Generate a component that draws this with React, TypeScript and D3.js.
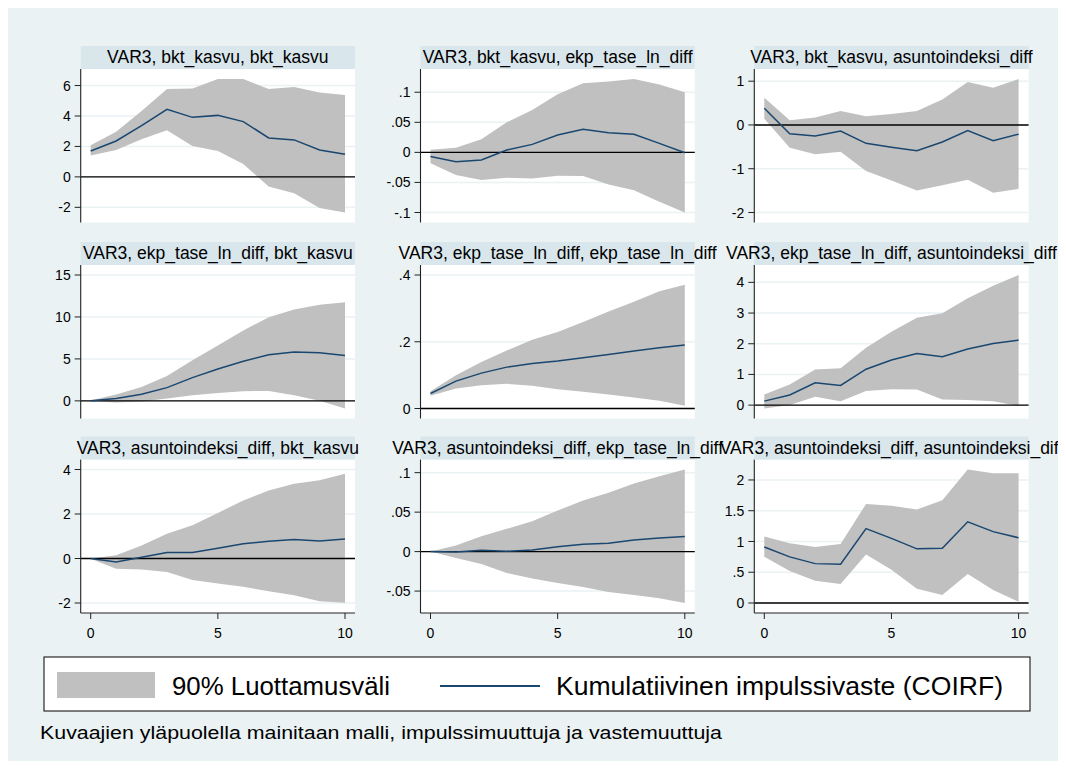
import React from "react";
import * as d3 from "d3";

// ---------- data ----------
const STEPS = [0, 1, 2, 3, 4, 5, 6, 7, 8, 9, 10];
const X_TICKS = [0, 5, 10];

const TITLES = [
  "VAR3, bkt_kasvu, bkt_kasvu",
  "VAR3, bkt_kasvu, ekp_tase_ln_diff",
  "VAR3, bkt_kasvu, asuntoindeksi_diff",
  "VAR3, ekp_tase_ln_diff, bkt_kasvu",
  "VAR3, ekp_tase_ln_diff, ekp_tase_ln_diff",
  "VAR3, ekp_tase_ln_diff, asuntoindeksi_diff",
  "VAR3, asuntoindeksi_diff, bkt_kasvu",
  "VAR3, asuntoindeksi_diff, ekp_tase_ln_diff",
  "VAR3, asuntoindeksi_diff, asuntoindeksi_diff",
];

// bkt_kasvu -> bkt_kasvu
const coirf1 = [1.7, 2.36, 3.37, 4.44, 3.91, 4.04, 3.63, 2.56, 2.43, 1.77, 1.49];
const lo1 = [1.4, 1.77, 2.47, 3.06, 2.03, 1.7, 0.85, -0.63, -1.07, -2.05, -2.34];
const hi1 = [2.08, 2.97, 4.33, 5.77, 5.81, 6.43, 6.43, 5.77, 5.9, 5.55, 5.38];
const ticks1 = [-2, 0, 2, 4, 6];
const labels1 = ["-2", "0", "2", "4", "6"];

// bkt_kasvu -> ekp_tase_ln_diff
const coirf2 = [-0.007, -0.0156, -0.0128, 0.0039, 0.0133, 0.0289, 0.0383, 0.0328, 0.03, 0.015, -0.0006];
const lo2 = [-0.0183, -0.0378, -0.0461, -0.0422, -0.0433, -0.0389, -0.0394, -0.0533, -0.0628, -0.0822, -0.1];
const hi2 = [0.0044, 0.0078, 0.0217, 0.05, 0.0706, 0.0967, 0.115, 0.118, 0.122, 0.113, 0.1];
const ticks2 = [-0.1, -0.05, 0, 0.05, 0.1];
const labels2 = ["-.1", "-.05", "0", ".05", ".1"];

// bkt_kasvu -> asuntoindeksi_diff
const coirf3 = [0.38, -0.2, -0.25, -0.14, -0.42, -0.51, -0.59, -0.39, -0.13, -0.36, -0.21];
const lo3 = [0.14, -0.52, -0.67, -0.61, -1.05, -1.27, -1.5, -1.38, -1.25, -1.55, -1.46];
const hi3 = [0.62, 0.11, 0.17, 0.32, 0.2, 0.25, 0.32, 0.58, 0.98, 0.85, 1.05];
const ticks3 = [-2, -1, 0, 1];
const labels3 = ["-2", "-1", "0", "1"];

// ekp_tase_ln_diff -> bkt_kasvu
const coirf4 = [0, 0.28, 0.79, 1.58, 2.77, 3.8, 4.71, 5.5, 5.82, 5.74, 5.42];
const lo4 = [-0.04, -0.2, -0.08, 0.28, 0.67, 0.95, 1.15, 1.19, 0.67, 0.0, -0.91];
const hi4 = [0.05, 0.75, 1.66, 2.97, 4.83, 6.61, 8.39, 9.97, 10.88, 11.44, 11.75];
const ticks4 = [0, 5, 10, 15];
const labels4 = ["0", "5", "10", "15"];

// ekp_tase_ln_diff -> ekp_tase_ln_diff
const coirf5 = [0.045, 0.082, 0.106, 0.124, 0.135, 0.142, 0.152, 0.162, 0.172, 0.182, 0.19];
const lo5 = [0.038, 0.06, 0.07, 0.074, 0.068, 0.058, 0.05, 0.042, 0.033, 0.023, 0.008];
const hi5 = [0.052, 0.1, 0.139, 0.174, 0.206, 0.229, 0.259, 0.291, 0.32, 0.351, 0.371];
const ticks5 = [0, 0.2, 0.4];
const labels5 = ["0", ".2", ".4"];

// ekp_tase_ln_diff -> asuntoindeksi_diff
const coirf6 = [0.13, 0.33, 0.73, 0.64, 1.17, 1.47, 1.68, 1.58, 1.83, 2.01, 2.12];
const lo6 = [-0.11, 0.0, 0.27, 0.13, 0.46, 0.52, 0.51, 0.18, 0.17, 0.13, -0.02];
const hi6 = [0.35, 0.67, 1.16, 1.2, 1.87, 2.39, 2.85, 2.99, 3.48, 3.89, 4.24];
const ticks6 = [0, 1, 2, 3, 4];
const labels6 = ["0", "1", "2", "3", "4"];

// asuntoindeksi_diff -> bkt_kasvu
const coirf7 = [0, -0.16, 0.06, 0.27, 0.27, 0.46, 0.66, 0.78, 0.85, 0.79, 0.88];
const lo7 = [-0.01, -0.46, -0.49, -0.61, -0.97, -1.12, -1.27, -1.47, -1.65, -1.92, -1.99];
const hi7 = [0.0, 0.15, 0.58, 1.11, 1.5, 2.05, 2.61, 3.06, 3.36, 3.52, 3.81];
const ticks7 = [-2, 0, 2, 4];
const labels7 = ["-2", "0", "2", "4"];

// asuntoindeksi_diff -> ekp_tase_ln_diff
const coirf8 = [0, -0.0004, 0.0017, 0.0004, 0.0021, 0.0063, 0.0093, 0.0106, 0.0148, 0.0173, 0.019];
const lo8 = [0, -0.008, -0.0156, -0.027, -0.0342, -0.0397, -0.0448, -0.0512, -0.055, -0.0592, -0.0651];
const hi8 = [0, 0.0076, 0.0195, 0.0288, 0.0385, 0.052, 0.0647, 0.0744, 0.0863, 0.0956, 0.104];
const ticks8 = [-0.05, 0, 0.05, 0.1];
const labels8 = ["-.05", "0", ".05", ".1"];

// asuntoindeksi_diff -> asuntoindeksi_diff
const coirf9 = [0.91, 0.75, 0.64, 0.63, 1.21, 1.05, 0.88, 0.89, 1.32, 1.16, 1.06];
const lo9 = [0.75, 0.52, 0.36, 0.31, 0.79, 0.54, 0.23, 0.13, 0.47, 0.21, 0.02];
const hi9 = [1.08, 0.97, 0.91, 0.96, 1.61, 1.58, 1.52, 1.67, 2.17, 2.11, 2.11];
const ticks9 = [0, 0.5, 1, 1.5, 2];
const labels9 = ["0", ".5", "1", "1.5", "2"];

const LEGEND_BAND = "90% Luottamusväli";
const LEGEND_LINE = "Kumulatiivinen impulssivaste (COIRF)";
const NOTE = "Kuvaajien yläpuolella mainitaan malli, impulssimuuttuja ja vastemuuttuja";

const PANELS = [
  { coirf: coirf1, lo: lo1, hi: hi1, ticks: ticks1, labels: labels1 },
  { coirf: coirf2, lo: lo2, hi: hi2, ticks: ticks2, labels: labels2 },
  { coirf: coirf3, lo: lo3, hi: hi3, ticks: ticks3, labels: labels3 },
  { coirf: coirf4, lo: lo4, hi: hi4, ticks: ticks4, labels: labels4 },
  { coirf: coirf5, lo: lo5, hi: hi5, ticks: ticks5, labels: labels5 },
  { coirf: coirf6, lo: lo6, hi: hi6, ticks: ticks6, labels: labels6 },
  { coirf: coirf7, lo: lo7, hi: hi7, ticks: ticks7, labels: labels7 },
  { coirf: coirf8, lo: lo8, hi: hi8, ticks: ticks8, labels: labels8 },
  { coirf: coirf9, lo: lo9, hi: hi9, ticks: ticks9, labels: labels9 },
].map((p, i) => ({ ...p, title: TITLES[i] }));

// ---------- layout / style ----------
const PAGE_W = 1066;
const PAGE_H = 769;
const OFF = 8;
const W = 1050;
const H = 753;
const BG = "#EAF2F3";
const TITLE_BG = "#D9E6EC";
const BAND = "#C0C0C0";
const NAVY = "#1A476F";
const FONT = "'Liberation Sans', Arial, Helvetica, sans-serif";
const COL_LEFT = [72.7, 412.5, 746.3];
const PLOT_W = 274.3;
const ROW_TITLE_TOP = [38, 234, 428.5];
const TITLE_H = 23;
const PLOT_H = 153.5;
const PAD = 10;

function Panel({ p, idx }: { p: any; idx: number }) {
  const col = idx % 3;
  const row = Math.floor(idx / 3);
  const left = COL_LEFT[col];
  const titleTop = ROW_TITLE_TOP[row];
  const top = titleTop + TITLE_H;
  const bottom = top + PLOT_H;
  const right = left + PLOT_W;

  const x = d3.scaleLinear().domain([0, 10]).range([left + PAD, right - PAD]);
  const ext = d3.extent([...p.lo, ...p.hi, ...p.ticks]) as [number, number];
  const y = d3.scaleLinear().domain(ext).range([bottom - PAD, top + PAD]);

  const area = d3
    .area<number>()
    .x((d) => x(d))
    .y0((d, i) => y(p.lo[i]))
    .y1((d, i) => y(p.hi[i]));
  const line = d3
    .line<number>()
    .x((d) => x(d))
    .y((d, i) => y(p.coirf[i]));

  return (
    <g>
      <rect x={left} y={top} width={PLOT_W} height={PLOT_H} fill="#fff" />
      {p.ticks.map((t: number, i: number) => (
        <line key={"g" + i} x1={left} x2={right} y1={y(t)} y2={y(t)} stroke={BG} strokeWidth={1.5} />
      ))}
      <path d={area(STEPS) || ""} fill={BAND} stroke="none" />
      <line x1={left} x2={right} y1={y(0)} y2={y(0)} stroke="#000" strokeWidth={1.4} />
      <path d={line(STEPS) || ""} fill="none" stroke={NAVY} strokeWidth={1.5} />
      {/* y axis */}
      <line x1={left} x2={left} y1={top} y2={bottom} stroke="#222" strokeWidth={1.1} />
      {p.ticks.map((t: number, i: number) => (
        <g key={"t" + i}>
          <line x1={left - 6} x2={left} y1={y(t)} y2={y(t)} stroke="#222" strokeWidth={1} />
          <text
            x={left - 10}
            y={y(t)}
            dy="0.36em"
            textAnchor="end"
            fontSize={14}
            fontFamily={FONT}
            fill="#000"
          >
            {p.labels[i]}
          </text>
        </g>
      ))}
      {row === 2 && (
        <g>
          <line x1={left} x2={right} y1={bottom} y2={bottom} stroke="#222" strokeWidth={1.1} />
          {X_TICKS.map((t) => (
            <g key={"x" + t}>
              <line x1={x(t)} x2={x(t)} y1={bottom} y2={bottom + 6} stroke="#222" strokeWidth={1} />
              <text x={x(t)} y={bottom + 25} textAnchor="middle" fontSize={14} fontFamily={FONT} fill="#000">
                {t}
              </text>
            </g>
          ))}
        </g>
      )}
      <rect x={left} y={titleTop} width={PLOT_W} height={TITLE_H} fill={TITLE_BG} />
      <text
        x={(left + right) / 2}
        y={titleTop + 17}
        textAnchor="middle"
        fontSize={17.5}
        fontFamily={FONT}
        fill="#000"
      >
        {p.title}
      </text>
    </g>
  );
}

export default function App() {
  return (
    <svg
      width={PAGE_W}
      height={PAGE_H}
      style={{ display: "block", margin: -OFF }}
      xmlns="http://www.w3.org/2000/svg"
    >
      <rect x={0} y={0} width={PAGE_W} height={PAGE_H} fill="#fff" />
      <g transform={`translate(${OFF},${OFF})`}>
        <rect x={0} y={0} width={W} height={H} fill={BG} />
        {PANELS.map((p, i) => (
          <Panel key={i} p={p} idx={i} />
        ))}
        {/* legend */}
        <rect x={36} y={649} width={986} height={54} fill="#fff" stroke="#000" strokeWidth={1} />
        <rect x={49} y={664} width={98} height={26} fill={BAND} />
        <text x={164} y={687} fontSize={26} fontFamily={FONT} textLength={218} lengthAdjust="spacingAndGlyphs" fill="#000">
          {LEGEND_BAND}
        </text>
        <line x1={432} x2={532} y1={678} y2={678} stroke={NAVY} strokeWidth={1.8} />
        <text x={548} y={687} fontSize={26} fontFamily={FONT} textLength={447} lengthAdjust="spacingAndGlyphs" fill="#000">
          {LEGEND_LINE}
        </text>
        <text x={32} y={731} fontSize={17.5} fontFamily={FONT} textLength={682} lengthAdjust="spacingAndGlyphs" fill="#000">
          {NOTE}
        </text>
      </g>
    </svg>
  );
}
